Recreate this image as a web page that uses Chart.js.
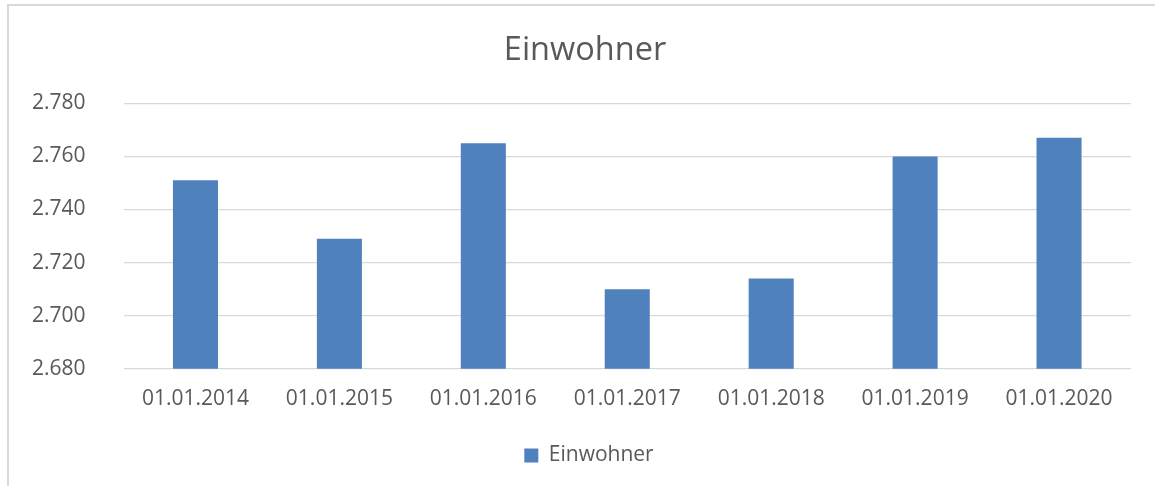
<!DOCTYPE html>
<html>
<head>
<meta charset="utf-8">
<script src="https://cdn.jsdelivr.net/npm/chart.js@4"></script>
<style>
  html, body { margin: 0; padding: 0; background: #ffffff; }
  #wrap { position: relative; width: 1155px; height: 486px; overflow: hidden; }
  #frame { position: absolute; left: 7px; top: 4px; width: 1200px; height: 600px;
           border-top: 2px solid #d9d9d9; border-left: 2px solid #d9d9d9; box-sizing: border-box; }
  canvas { position: absolute; left: 0; top: 0; }
</style>
</head>
<body>
<div id="wrap">
  <div id="frame"></div>
  <canvas id="c" width="1155" height="486"></canvas>
</div>
<script>
const categories = ["01.01.2014", "01.01.2015", "01.01.2016", "01.01.2017", "01.01.2018", "01.01.2019", "01.01.2020"];
const einwohner = [2751, 2729, 2765, 2710, 2714, 2760, 2767];
const seriesName = "Einwohner";
const chartTitle = "Einwohner";
const yMin = 2680, yMax = 2780, yStep = 20;

const TEXT = "#595959";
const FONT = "'Open Sans', 'Liberation Sans', sans-serif";

// shifts the title and bottom legend so they are centred like the reference
const blockShift = {
  id: "blockShift",
  afterLayout(chart) {
    if (chart.legend) { chart.legend.left += 47; }
    if (chart.titleBlock) { chart.titleBlock.left += 39; }
  }
};

new Chart(document.getElementById("c"), {
  type: "bar",
  data: {
    labels: categories,
    datasets: [{
      label: seriesName,
      data: einwohner,
      backgroundColor: "#4F81BD",
      borderWidth: 0,
      barPercentage: 0.313,
      categoryPercentage: 1.0
    }]
  },
  plugins: [blockShift],
  options: {
    responsive: false,
    animation: false,
    devicePixelRatio: 1,
    layout: { padding: { left: 0, right: 24, top: 0, bottom: 10 } },
    plugins: {
      title: {
        display: true,
        text: chartTitle,
        color: TEXT,
        font: { family: FONT, size: 32.5, weight: "normal" },
        padding: { top: 31, bottom: 33.3 }
      },
      legend: {
        display: true,
        position: "bottom",
        labels: {
          color: TEXT,
          font: { family: FONT, size: 21 },
          boxWidth: 14,
          boxHeight: 14,
          padding: 16
        }
      },
      tooltip: { enabled: false }
    },
    scales: {
      x: {
        grid: { display: false, drawTicks: false },
        border: { display: false },
        ticks: { color: TEXT, font: { family: FONT, size: 21 }, padding: 17.5, maxRotation: 0 }
      },
      y: {
        min: yMin,
        max: yMax,
        grid: { color: "#d9d9d9", lineWidth: 1.3, drawTicks: false },
        border: { display: false },
        ticks: {
          stepSize: yStep,
          color: TEXT,
          font: { family: FONT, size: 21 },
          padding: 38,
          callback: v => v.toLocaleString("de-DE")
        },
        afterFit: axis => { axis.width = 123.5; }
      }
    }
  }
});
</script>
</body>
</html>
